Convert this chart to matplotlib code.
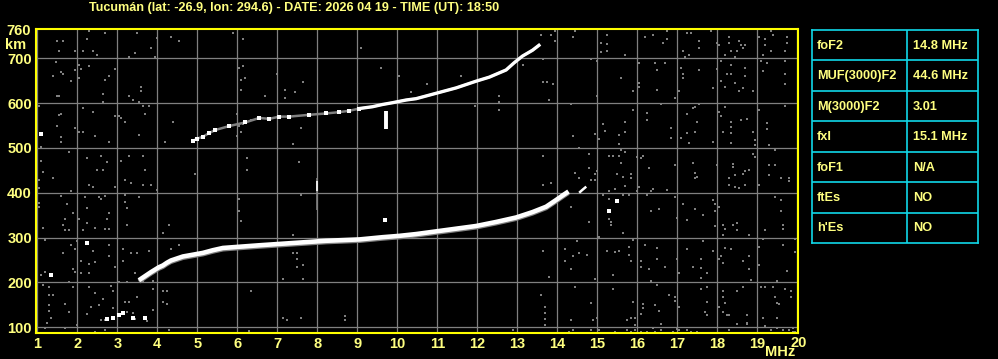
#!/usr/bin/env python3
import numpy as np
import matplotlib
matplotlib.use("Agg")
import matplotlib.pyplot as plt

# --- header / table text ---
title = "Tucumán (lat: -26.9, lon: 294.6) - DATE: 2026 04 19 - TIME (UT): 18:50"
param_names = ["foF2", "MUF(3000)F2", "M(3000)F2", "fxI", "foF1", "ftEs", "h'Es"]
param_values = ["14.8 MHz", "44.6 MHz", "3.01", "15.1 MHz", "N/A", "NO", "NO"]

freq_ticks = list(range(1, 21))
height_ticks = [100, 200, 300, 400, 500, 600, 700]

# --- F2 trace (first hop) ---
f2_freq = [3.54, 3.69, 3.84, 4.04, 4.14, 4.24, 4.34, 4.64, 4.89, 5.14, 5.39, 5.64, 6.55, 7.38,
           8.22, 9.05, 9.63, 10.05, 10.47, 10.97, 11.47, 11.97, 12.47, 12.97, 13.38, 13.72,
           13.97, 14.13, 14.28]
f2_height = [205, 214, 223, 234, 238, 244, 249, 258, 262, 266, 272, 277, 283, 288,
             293, 296, 301, 304, 308, 314, 320, 326, 335, 345, 357, 369,
             384, 394, 403]
f2_tail_freq = [14.57, 14.62, 14.7]
f2_tail_height = [402, 406, 412]

# --- second hop trace ---
hop2_freq = [4.89, 5.0, 5.14, 5.29, 5.45, 5.8, 6.2, 6.55, 6.8, 7.05, 7.3, 7.8, 8.22, 8.55,
             8.8, 9.05, 9.38, 9.63, 9.88, 10.22, 10.47, 10.97, 11.47, 11.97, 12.3, 12.72,
             12.92, 13.13, 13.38, 13.54]
hop2_height = [516, 521, 525, 533, 540, 549, 557, 567, 565, 570, 570, 574, 577, 580,
               583, 588, 592, 597, 601, 607, 610, 622, 634, 649, 658, 674,
               690, 705, 718, 729]

# isolated bright echoes
echo_freq = [1.09, 2.24, 1.34, 2.74, 2.89, 3.04, 3.14, 3.39, 3.69, 9.7, 15.49, 15.29]
echo_height = [531, 289, 217, 119, 121, 128, 131, 121, 121, 339, 382, 360]

# --- grey noise dots ---
noise_freq = [
    2.29, 2.69, 3.49, 1.49, 1.64, 2.24, 3.99, 4.34, 4.54, 1.54, 1.94, 2.14, 2.39, 2.49, 3.44,
    3.29, 3.84, 3.94, 1.47, 1.59, 1.64, 1.39, 1.84, 2.04, 2.09, 1.94, 2.29, 2.04, 2.94, 2.79,
    2.69, 3.59, 3.59, 2.64, 3.29, 3.39, 3.54, 1.49, 1.54, 2.64, 1.04, 1.54, 1.59, 2.14, 2.39,
    2.94, 3.04, 3.09, 3.19, 3.64, 3.79, 3.69, 4.39, 1.50, 1.95, 2.04, 2.14, 2.44, 1.59, 1.59,
    2.79, 3.54, 4.19, 1.09, 1.09, 1.79, 2.24, 2.59, 2.74, 2.64, 2.49, 1.14, 1.39, 1.04, 1.04,
    3.09, 3.29, 3.64, 3.69, 3.19, 3.34, 3.64, 3.84, 2.94, 2.29, 2.39, 1.84, 3.99, 4.94, 1.59,
    1.74, 1.04, 1.04, 1.89, 2.04, 2.24, 2.19, 2.54, 2.69, 2.59, 2.79, 3.19, 3.19, 3.24, 1.69,
    1.64, 1.69, 1.79, 1.14, 2.44, 2.74, 2.69, 2.79, 2.14, 2.24, 3.24, 3.54, 4.29, 4.14, 1.19,
    1.99, 1.84, 1.94, 2.79, 2.39, 1.64, 2.79, 3.14, 3.34, 3.49, 3.79, 4.34, 4.54, 2.09, 2.29,
    2.44, 2.09, 2.29, 2.94, 3.14, 1.09, 1.19, 1.89, 1.94, 1.79, 1.89, 1.14, 1.29, 1.29, 1.39,
    2.29, 2.44, 2.84, 2.89, 3.04, 3.24, 3.44, 3.64, 3.89, 3.89, 4.14, 4.24, 4.14, 4.24, 3.19,
    3.29, 3.49, 2.64, 2.54, 2.34, 2.24, 1.69, 1.79, 1.29, 1.29, 1.34, 1.24, 1.19, 1.69, 1.99,
    2.59, 2.69, 2.89, 3.24, 3.39, 3.44, 3.89, 3.74, 2.69, 2.44, 4.29,
    5.89, 6.14, 9.09, 9.59, 10.04, 10.34, 6.04, 6.14, 6.09, 6.19, 6.09, 6.99, 7.64, 7.19, 7.44,
    6.69, 7.19, 5.99, 6.04, 6.14, 6.34, 6.09, 5.99, 7.59, 7.39, 6.24, 6.24, 7.54, 6.04, 6.04,
    6.09, 7.59, 7.39, 7.39, 7.49, 7.49, 7.49, 7.64, 7.14, 7.64, 6.34, 7.14, 7.24, 7.59, 8.69,
    8.69, 6.29,
    13.59, 13.84, 13.94, 13.94, 14.44, 14.39, 15.09, 15.09, 13.64, 14.84, 14.99, 13.14, 11.59,
    10.74, 13.64, 13.74, 13.89, 12.54, 12.54, 12.54, 11.94, 13.79, 14.34, 14.99, 15.14, 15.19,
    14.94, 15.04, 14.39, 14.54, 14.79, 13.64, 14.44, 14.54, 14.79, 14.94, 14.99, 14.84, 14.94,
    13.64, 13.84, 15.14, 14.34, 14.79, 15.04, 14.49, 14.19, 14.39, 14.54, 14.74, 13.64, 14.19,
    14.34, 13.79, 14.94, 14.44, 13.59, 14.84, 13.69, 13.69, 13.69, 13.69, 14.34, 14.89, 14.99,
    12.89, 14.29, 14.39, 14.84, 15.04,
    15.24, 15.24, 15.24, 16.19, 16.39, 16.74, 16.64, 16.74, 17.24, 17.34, 17.54, 17.54, 17.14,
    17.19, 17.29, 17.84, 17.99, 18.04, 18.29, 18.29, 18.34, 18.19, 18.44, 18.54, 18.59, 18.69,
    18.64, 18.49, 19.04, 19.19, 19.19, 19.34, 19.39, 19.74, 19.74, 19.69, 19.34, 19.14, 15.69,
    16.04, 16.04, 16.04, 16.44, 16.49, 16.69, 15.59, 15.89, 16.49, 16.94, 17.04, 17.09, 17.14,
    17.14, 17.54, 17.99, 17.89, 18.09, 18.34, 18.24, 18.34, 18.69, 18.69, 18.44, 18.54, 18.64,
    18.89, 18.09, 18.19, 19.09, 19.14, 19.24, 19.69, 19.69, 19.69, 16.59, 15.89, 16.24, 16.24,
    15.69, 15.69, 15.54, 15.54, 16.84, 16.84, 17.24, 17.39, 17.44, 17.54, 17.49, 17.24, 17.09,
    17.29, 17.44, 17.89, 18.04, 18.19, 18.09, 18.34, 18.34, 18.59, 18.74, 18.34, 18.14, 18.34,
    18.89, 18.94, 18.94, 19.04, 19.24, 19.24, 19.29, 19.69, 15.29, 15.39, 15.54, 15.59, 15.69,
    15.59, 15.99, 16.09, 16.14, 16.29, 16.94, 17.39, 17.44, 17.44, 17.49, 17.99, 18.29, 18.29,
    18.39, 18.39, 18.44, 18.64, 18.69, 18.79, 18.89, 18.94, 18.69, 18.54, 18.44, 19.04, 19.29,
    19.29, 19.44, 19.59, 19.79, 19.79, 19.44, 15.49, 15.64, 15.84, 15.84, 15.69, 16.04, 15.29,
    15.44, 15.64, 15.79, 15.99, 16.24, 16.34, 16.39, 16.74, 16.94, 15.29, 15.29, 15.34, 15.34,
    15.64, 16.34, 16.54, 16.99, 17.24, 17.44, 17.14, 17.64, 17.89, 17.94, 17.94, 17.94, 18.04,
    18.14, 18.19, 18.39, 18.49, 18.49, 18.14, 18.79, 19.19, 19.44, 19.59, 19.59, 19.64, 19.64,
    15.89, 15.24, 15.44, 15.54, 15.79, 15.79, 15.84, 16.19, 16.09, 16.09, 16.29, 16.49, 16.49,
    16.69, 16.99, 17.24, 17.04, 17.39, 17.59, 17.59, 17.64, 17.74, 17.59, 17.89, 18.04, 18.09,
    18.19, 18.34, 18.14, 18.64, 18.79, 18.79, 18.84, 19.04, 19.04, 19.14, 19.64, 19.74, 19.94,
    19.94, 15.39, 15.39, 16.34, 16.49, 15.89, 16.14, 16.14, 16.09, 16.44, 16.54, 16.79, 16.94,
    16.94, 17.04, 17.74, 17.59, 17.74, 17.69, 17.74, 18.14, 18.14, 18.19, 18.04, 18.14, 18.24,
    18.29, 18.49, 18.64, 18.74, 18.74, 19.09, 19.19, 19.39, 19.49, 19.44, 19.49, 19.54, 19.69,
    19.84, 19.84, 15.44, 15.74, 15.84, 15.94, 15.94, 15.94, 15.74, 15.84, 16.09, 16.24, 16.39,
    16.44, 16.59, 16.59, 16.89, 16.99, 17.04, 17.24, 17.34, 17.49, 18.29, 18.49, 18.74, 19.14,
    19.19, 19.34, 19.49, 19.49, 19.64, 19.79, 19.89, 19.89, 19.94,
]
noise_height = [
    762, 757, 757, 739, 739, 744, 745, 748, 739, 717, 717, 717, 717, 708, 711,
    704, 722, 704, 692, 669, 665, 661, 649, 686, 677, 674, 683, 656, 677, 661,
    652, 628, 637, 620, 616, 607, 603, 616, 616, 603, 594, 574, 576, 589, 580,
    571, 571, 567, 558, 594, 594, 576, 558, 550, 545, 536, 536, 527, 525, 513,
    513, 530, 513, 503, 470, 491, 478, 482, 469, 451, 451, 446, 433, 429, 411,
    472, 482, 481, 451, 429, 423, 418, 418, 414, 418, 412, 405, 406, 442, 393,
    374, 378, 369, 356, 342, 366, 391, 391, 393, 387, 356, 396, 380, 366, 342,
    329, 316, 316, 322, 322, 341, 320, 320, 316, 333, 329, 391, 328, 311, 295,
    292, 284, 275, 284, 271, 266, 259, 274, 266, 266, 271, 275, 284, 249, 241,
    246, 222, 222, 235, 249, 217, 223, 231, 223, 200, 191, 195, 191, 173, 173,
    191, 176, 192, 182, 200, 201, 222, 204, 204, 186, 182, 182, 156, 152, 156,
    156, 168, 164, 150, 146, 130, 152, 134, 150, 137, 121, 110, 98, 98, 106,
    116, 116, 142, 134, 131, 118, 139, 115, 94, 90, 94,
    757, 744, 722, 678, 661, 625, 678, 683, 652, 656, 629, 664, 647, 629, 625,
    616, 611, 576, 549, 553, 562, 536, 527, 545, 509, 478, 451, 469, 387, 360,
    338, 396, 307, 266, 266, 253, 235, 240, 208, 208, 182, 121, 116, 121, 125,
    116, 92,
    753, 753, 762, 739, 762, 748, 735, 713, 698, 699, 693, 686, 661,
    643, 647, 647, 643, 616, 603, 585, 594, 607, 598, 616, 553, 537,
    531, 521, 527, 500, 487, 481, 445, 432, 455, 442, 449, 429, 429,
    418, 423, 396, 369, 336, 302, 292, 275, 258, 266, 262, 271, 249,
    231, 213, 208, 191, 173, 155, 146, 133, 119, 106, 116, 116, 121,
    94, 90, 94, 94, 94,
    753, 732, 717, 748, 753, 762, 735, 744, 757, 757, 739, 722, 717,
    704, 708, 762, 735, 730, 748, 735, 717, 708, 704, 739, 730, 730,
    722, 717, 748, 744, 730, 762, 753, 748, 735, 717, 717, 708, 708,
    690, 646, 637, 689, 674, 689, 656, 628, 629, 612, 626, 678, 664,
    656, 674, 677, 634, 693, 686, 664, 665, 678, 661, 646, 626, 634,
    626, 650, 637, 693, 672, 690, 695, 665, 643, 598, 585, 577, 562,
    558, 536, 530, 509, 545, 522, 576, 589, 592, 597, 558, 534, 522,
    510, 536, 513, 580, 592, 571, 558, 546, 562, 565, 534, 536, 510,
    536, 518, 506, 585, 555, 542, 507, 594, 481, 481, 481, 467, 491,
    496, 479, 478, 482, 456, 461, 467, 445, 432, 436, 461, 433, 418,
    464, 458, 439, 443, 449, 452, 487, 479, 418, 411, 414, 418, 463,
    439, 463, 433, 433, 427, 496, 442, 436, 442, 433, 415, 414, 403,
    408, 396, 396, 405, 396, 403, 408, 406, 391, 387, 341, 336, 329,
    311, 359, 365, 344, 339, 365, 374, 351, 383, 374, 360, 325, 369,
    329, 319, 329, 333, 316, 307, 307, 316, 391, 383, 360, 329, 319,
    295, 271, 267, 271, 280, 262, 249, 284, 247, 235, 231, 277, 253,
    235, 253, 275, 222, 235, 252, 232, 293, 222, 209, 271, 253, 258,
    278, 275, 244, 249, 258, 231, 206, 280, 240, 298, 284, 226, 298,
    267, 217, 186, 204, 195, 157, 151, 142, 130, 149, 137, 173, 167,
    159, 146, 191, 186, 157, 134, 128, 180, 168, 154, 146, 134, 128,
    128, 182, 191, 128, 110, 189, 191, 191, 203, 167, 155, 151, 186,
    182, 168, 90, 116, 121, 121, 106, 94, 94, 90, 90, 90, 99,
    90, 107, 94, 90, 97, 94, 94, 90, 90, 94, 107, 107, 121,
    103, 94, 121, 99, 94, 94, 99, 90, 90,
]

BG = "black"
YELLOW = "#ffff00"
TXT = "#ffff80"
GREY = "#808080"
CYAN = "#10d8e8"
FONT = "Liberation Sans"

fig = plt.figure(figsize=(9.98, 3.59), dpi=100, facecolor=BG)
W, H = 998, 359

def px_box(x0, y0, x1, y1):
    return [x0 / W, 1 - y1 / H, (x1 - x0) / W, (y1 - y0) / H]

ax = fig.add_axes(px_box(36, 29, 798, 333))
ax.set_facecolor(BG)
ax.set_xlim(0.9675, 20.0175)
ax.set_ylim(87.3, 765.4)

ax.set_xticks(freq_ticks)
ax.set_yticks(height_ticks)
ax.set_xticklabels([str(f) if f != 20 else "" for f in freq_ticks])
ax.tick_params(length=0, colors=TXT, labelsize=10.5, pad=3)
for lab in ax.get_xticklabels() + ax.get_yticklabels():
    lab.set_fontfamily(FONT)
    lab.set_fontweight("bold")
ax.grid(True, color=GREY, lw=0.9)
ax.set_axisbelow(True)
for sp in ax.spines.values():
    sp.set_color(YELLOW)
    sp.set_linewidth(1.5)

# noise
ax.scatter(noise_freq, noise_height, marker="s", s=4.2, color=GREY, linewidths=0,
           antialiased=False, zorder=2)

# first-hop F2 trace
f2_freq = np.array(f2_freq)
f2_height = np.array(f2_height)
ax.plot(f2_freq, f2_height - 3, color=GREY, lw=3.2, solid_capstyle="butt", zorder=3)
ax.plot(f2_freq, f2_height, color="white", lw=3.3, solid_capstyle="butt", zorder=4)
ax.plot(f2_tail_freq, f2_tail_height, color="white", lw=1.8, zorder=4)

# second hop
hop2_freq = np.array(hop2_freq)
hop2_height = np.array(hop2_height)
ax.plot(hop2_freq, hop2_height, color=GREY, lw=1.8, zorder=3)
lo = hop2_freq <= 9.05
ax.scatter(hop2_freq[lo], hop2_height[lo], marker="s", s=6.5, color="white", linewidths=0,
           antialiased=False, zorder=4)
hi = hop2_freq >= 9.05
ax.plot(hop2_freq[hi], hop2_height[hi], color="white", lw=2.4, zorder=4)

# vertical artifacts
ax.vlines(9.72, 543, 582, color="white", lw=2.8, zorder=4)
ax.vlines(7.98, 362, 434, color=GREY, lw=1.2, zorder=3)
ax.vlines(7.98, 403, 426, color="white", lw=1.2, zorder=3)

ax.scatter(echo_freq, echo_height, marker="s", s=6.5, color="white", linewidths=0,
           antialiased=False, zorder=4)

# texts
fig.text(294 / W, 1 - 7.5 / H, title, color=TXT, fontsize=9.1, fontweight="bold",
         family=FONT, ha="center", va="center")
fig.text(31 / W, 1 - 31 / H, "760", color=TXT, fontsize=10.5, fontweight="bold",
         family=FONT, ha="right", va="center")
fig.text(5 / W, 1 - 45 / H, "km", color=TXT, fontsize=10.5, fontweight="bold",
         family=FONT, ha="left", va="center")
fig.text(799 / W, 1 - 343 / H, "20", color=TXT, fontsize=10.5, fontweight="bold",
         family=FONT, ha="center", va="center")
fig.text(780 / W, 1 - 352 / H, "MHz", color=TXT, fontsize=10.5, fontweight="bold",
         family=FONT, ha="center", va="center")

# parameter table
tab = fig.add_axes(px_box(812, 30, 978, 243))
tab.set_facecolor(BG)
tab.set_xlim(0, 1)
n = len(param_names)
tab.set_ylim(n, 0)
tab.set_xticks([])
tab.set_yticks([])
for sp in tab.spines.values():
    sp.set_color(CYAN)
    sp.set_linewidth(1.2)
for i in range(1, n):
    tab.axhline(i, color=CYAN, lw=1.2)
split = (907 - 812) / (978 - 812)
tab.axvline(split, color=CYAN, lw=1.2)
for i, (name, val) in enumerate(zip(param_names, param_values)):
    tab.text(0.03, i + 0.52, name, color=TXT, fontsize=9.2, fontweight="bold",
             family=FONT, va="center", ha="left")
    tab.text(split + 0.035, i + 0.52, val, color=TXT, fontsize=9.2, fontweight="bold",
             family=FONT, va="center", ha="left")

fig.savefig("out.png", dpi=100, facecolor=BG)
